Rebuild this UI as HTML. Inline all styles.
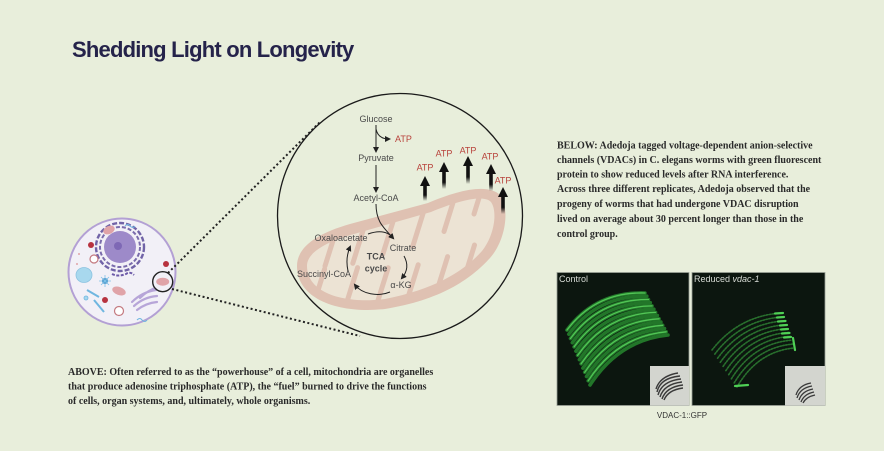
<!DOCTYPE html>
<html><head><meta charset="utf-8">
<style>
html,body{margin:0;padding:0;background:#e8eedb;}
body{width:884px;height:451px;overflow:hidden;position:relative;}
svg{position:absolute;left:0;top:0;}
.cap{font-family:"Liberation Serif",serif;font-weight:bold;font-size:10px;fill:#2a2a2a;}
.pw{font-family:"Liberation Sans",sans-serif;font-size:9px;fill:#4a4a4a;}
.atp{font-family:"Liberation Sans",sans-serif;font-size:9px;fill:#b8433c;}
</style></head><body>
<svg width="884" height="451" viewBox="0 0 884 451" xmlns="http://www.w3.org/2000/svg">
<defs>
  <marker id="ah" markerWidth="6" markerHeight="6" refX="4" refY="3" orient="auto" markerUnits="userSpaceOnUse">
    <path d="M0,0 L6,3 L0,6 Z" fill="#222"/>
  </marker>
  <linearGradient id="fade" x1="0" y1="1" x2="0" y2="0">
    <stop offset="0" stop-color="#111" stop-opacity="0"/>
    <stop offset="0.35" stop-color="#111" stop-opacity="1"/>
    <stop offset="1" stop-color="#111" stop-opacity="1"/>
  </linearGradient>
</defs>

<!-- Title -->
<text x="72" y="57" font-family="Liberation Sans, sans-serif" font-weight="bold" font-size="22" letter-spacing="-0.8" fill="#25234a">Shedding Light on Longevity</text>

<!-- Cell -->
<circle cx="122" cy="272" r="53.5" fill="#f2f0f7" stroke="#b3a0d4" stroke-width="2"/>
<circle cx="120" cy="247" r="24" fill="none" stroke="#5b4a99" stroke-width="2.4" stroke-dasharray="5 2" opacity="0.85"/>
<circle cx="120" cy="247" r="20" fill="none" stroke="#5b4a99" stroke-width="2" stroke-dasharray="4 2" opacity="0.8"/>
<circle cx="120" cy="247" r="16" fill="#9d8ac9"/>
<circle cx="118" cy="246" r="4" fill="#7e68b5"/>
<path d="M112,274 q6,3 14,0 q4,-3 8,1" fill="none" stroke="#6d5aa8" stroke-width="2" stroke-dasharray="3 1.5"/>
<ellipse cx="109" cy="230" rx="6" ry="4" fill="#e0a3a8" transform="rotate(-25 109 230)"/>
<circle cx="91" cy="245" r="3" fill="#b7323f"/>
<circle cx="166" cy="264" r="3" fill="#b7323f"/>
<circle cx="105" cy="300" r="3" fill="#b7323f"/>
<circle cx="94" cy="259" r="4" fill="#fff" stroke="#c47a80" stroke-width="1.2"/>
<circle cx="119" cy="311" r="4.5" fill="#fff" stroke="#c47a80" stroke-width="1.2"/>
<ellipse cx="84" cy="275" rx="8" ry="7.5" fill="#a8d8ee" stroke="#8cc3e0" stroke-width="0.8"/>
<circle cx="105" cy="281" r="3" fill="#3d8ac0"/>
<path d="M105,275 L105,287 M99,281 L111,281 M101,277 L109,285 M109,277 L101,285" stroke="#7cc0e8" stroke-width="0.8"/>
<line x1="87" y1="290" x2="99" y2="297" stroke="#6fb6e0" stroke-width="2"/>
<line x1="94" y1="300" x2="104" y2="312" stroke="#6fb6e0" stroke-width="2"/>
<circle cx="86" cy="298" r="2" fill="#a8d8ee" stroke="#6fb6e0" stroke-width="0.8"/>
<ellipse cx="119" cy="291" rx="7" ry="4" fill="#e0a3a8" transform="rotate(20 119 291)"/>
<path d="M132,302 q10,-10 24,-12 M134,306 q10,-9 23,-10 M137,310 q9,-7 20,-8 M140,298 q8,-8 18,-11" fill="none" stroke="#b7a5d8" stroke-width="2.2" stroke-linecap="round"/>
<path d="M125,226 q3,-3 5,0 q3,3 5,0" fill="none" stroke="#6fb6e0" stroke-width="1"/>
<path d="M137,320 q3,-3 5,0 q3,3 5,0" fill="none" stroke="#6fb6e0" stroke-width="1"/>
<circle cx="77" cy="264" r="1" fill="#e0a3a8"/>
<circle cx="79" cy="254" r="1" fill="#e0a3a8"/>
<circle cx="162.7" cy="281.7" r="10" fill="#f2f0f7" stroke="#222" stroke-width="1.4"/>
<ellipse cx="162.7" cy="281.7" rx="6.5" ry="4" fill="#e0a3a8"/>

<!-- dotted connectors -->
<line x1="168" y1="273" x2="320" y2="122" stroke="#222" stroke-width="2" stroke-dasharray="2 2.5"/>
<line x1="172" y1="289" x2="360" y2="336" stroke="#222" stroke-width="2" stroke-dasharray="2 2.5"/>

<!-- big circle -->
<circle cx="400" cy="216" r="122.5" fill="none" stroke="#1a1a1a" stroke-width="1.3"/>

<!-- mitochondrion -->
<path d="M297,266 C297,248 315,234 350,224 L428,203 C458,190 488,183 500,195 C510,208 506,240 490,258 C470,280 440,300 385,309 C340,314 297,300 297,266 Z" fill="#dfc1b2"/>
<path d="M307,266 C307,254 322,243 354,234 L431,212 C458,201 483,194 491,202 C498,212 494,236 482,251 C464,271 436,289 385,299 C346,304 307,294 307,266 Z" fill="#ece3d4"/>
<g stroke="#dfc1b2" stroke-width="5" stroke-linecap="round">
  <line x1="317.5" y1="292" x2="324.6" y2="269"/>
  <line x1="333.5" y1="239" x2="325" y2="266"/>
  <line x1="347.5" y1="300" x2="357.6" y2="267.6"/>
  <line x1="363.5" y1="229" x2="352.8" y2="263.3"/>
  <line x1="377.5" y1="302" x2="388.2" y2="267.7"/>
  <line x1="393.5" y1="220" x2="382.8" y2="254.3"/>
  <line x1="407.5" y1="299" x2="418.2" y2="264.7"/>
  <line x1="423.5" y1="212" x2="412.8" y2="246.3"/>
  <line x1="437.5" y1="289" x2="447.6" y2="256.6"/>
  <line x1="453.5" y1="201" x2="444" y2="231.5"/>
  <line x1="466.5" y1="271" x2="474.5" y2="245"/>
  <line x1="480.5" y1="193" x2="474" y2="214"/>
</g>

<!-- ATP arrows -->
<g>
  <rect x="423.2" y="184" width="3.6" height="17" fill="url(#fade)"/><path d="M420,186 L425,176 L430,186 Z" fill="#111"/>
  <rect x="442.2" y="170" width="3.6" height="19" fill="url(#fade)"/><path d="M439,172 L444,162 L449,172 Z" fill="#111"/>
  <rect x="466.2" y="164" width="3.6" height="20" fill="url(#fade)"/><path d="M463,166 L468,156 L473,166 Z" fill="#111"/>
  <rect x="489.2" y="172" width="3.6" height="19" fill="url(#fade)"/><path d="M486,174 L491,164 L496,174 Z" fill="#111"/>
  <rect x="501.2" y="195" width="3.6" height="19" fill="url(#fade)"/><path d="M498,197 L503,187 L508,197 Z" fill="#111"/>
</g>
<text class="atp" x="425" y="170.5" text-anchor="middle">ATP</text>
<text class="atp" x="444" y="156.5" text-anchor="middle">ATP</text>
<text class="atp" x="468" y="153.5" text-anchor="middle">ATP</text>
<text class="atp" x="490" y="159.5" text-anchor="middle">ATP</text>
<text class="atp" x="503" y="183.5" text-anchor="middle">ATP</text>

<!-- pathway -->
<text class="pw" x="376" y="122" text-anchor="middle">Glucose</text>
<line x1="376" y1="125" x2="376" y2="151" stroke="#222" stroke-width="1" marker-end="url(#ah)"/>
<path d="M376,129 Q378,139 389,139" fill="none" stroke="#222" stroke-width="1" marker-end="url(#ah)"/>
<text class="atp" x="395" y="142">ATP</text>
<text class="pw" x="376" y="161" text-anchor="middle">Pyruvate</text>
<line x1="376" y1="165" x2="376" y2="191" stroke="#222" stroke-width="1" marker-end="url(#ah)"/>
<text class="pw" x="376" y="201" text-anchor="middle">Acetyl-CoA</text>
<path d="M376,204 C376,222 384,228 393,238" fill="none" stroke="#222" stroke-width="1" marker-end="url(#ah)"/>
<path d="M368,234 Q382,229 390,235" fill="none" stroke="#222" stroke-width="1"/>
<text class="pw" x="341" y="241" text-anchor="middle">Oxaloacetate</text>
<text class="pw" x="403" y="251" text-anchor="middle">Citrate</text>
<text class="pw" x="376" y="259.5" text-anchor="middle" font-weight="bold" fill="#333">TCA</text>
<text class="pw" x="376" y="271.5" text-anchor="middle" font-weight="bold" fill="#333">cycle</text>
<text class="pw" x="324" y="277" text-anchor="middle">Succinyl-CoA</text>
<text class="pw" x="401" y="288" text-anchor="middle">α-KG</text>
<path d="M404,256 C409,265 407,272 402,278" fill="none" stroke="#222" stroke-width="1" marker-end="url(#ah)"/>
<path d="M390,292 C378,297 362,294 355,285" fill="none" stroke="#222" stroke-width="1" marker-end="url(#ah)"/>
<path d="M348,271 C346,262 347,254 350,247" fill="none" stroke="#222" stroke-width="1" marker-end="url(#ah)"/>

<!-- right caption -->
<g class="cap">
<text x="557" y="148.5">BELOW: Adedoja tagged voltage-dependent anion-selective</text>
<text x="557" y="163">channels (VDACs) in C. elegans worms with green fluorescent</text>
<text x="557" y="177.5">protein to show reduced levels after RNA interference.</text>
<text x="557" y="192.2">Across three different replicates, Adedoja observed that the</text>
<text x="557" y="207">progeny of worms that had undergone VDAC disruption</text>
<text x="557" y="222">lived on average about 30 percent longer than those in the</text>
<text x="557" y="236.8">control group.</text>
</g>

<!-- bottom caption -->
<g class="cap">
<text x="68" y="375">ABOVE: Often referred to as the “powerhouse” of a cell, mitochondria are organelles</text>
<text x="68" y="389.6">that produce adenosine triphosphate (ATP), the “fuel” burned to drive the functions</text>
<text x="68" y="404.2">of cells, organ systems, and, ultimately, whole organisms.</text>
</g>

<!-- worm panels -->
<rect x="557" y="272.5" width="132" height="133" fill="#0c160f" stroke="#9aa096" stroke-width="0.8"/>
<rect x="692" y="272.5" width="133" height="133" fill="#0c160f" stroke="#9aa096" stroke-width="0.8"/>
<g fill="none" stroke-linecap="round">
  <g stroke="#247c2b" stroke-width="3.6" opacity="0.95">
    <path d="M567,330 Q596,291.5 645,293"/>
    <path d="M568.8,334.2 Q597.8,295.2 646.8,296.2"/>
    <path d="M570.5,338.5 Q599.5,299 648.5,299.5"/>
    <path d="M572.3,342.7 Q601.3,302.7 650.3,302.7"/>
    <path d="M574.1,346.9 Q603.1,306.4 652.1,305.9"/>
    <path d="M575.9,351.2 Q604.9,310.2 653.9,309.2"/>
    <path d="M577.6,355.4 Q606.6,313.9 655.6,312.4"/>
    <path d="M579.4,359.6 Q608.4,317.6 657.4,315.6"/>
    <path d="M581.1,363.8 Q610.1,321.3 659.1,318.8"/>
    <path d="M582.9,368.1 Q611.9,325.1 660.9,322.1"/>
    <path d="M584.7,372.3 Q613.7,328.8 662.7,325.3"/>
    <path d="M586.5,376.5 Q615.5,332.5 664.5,328.5"/>
    <path d="M588.2,380.8 Q617.2,336.3 666.2,331.8"/>
    <path d="M590,385 Q619,340 668,335"/>
  </g>
  <g stroke="#52c656" stroke-width="1.3">
    <path d="M567,330 Q596,291.5 645,293"/>
    <path d="M570.5,338.5 Q599.5,299 648.5,299.5"/>
    <path d="M574.1,346.9 Q603.1,306.4 652.1,305.9"/>
    <path d="M577.6,355.4 Q606.6,313.9 655.6,312.4"/>
    <path d="M581.1,363.8 Q610.1,321.3 659.1,318.8"/>
    <path d="M584.7,372.3 Q613.7,328.8 662.7,325.3"/>
    <path d="M588.2,380.8 Q617.2,336.3 666.2,331.8"/>
  </g>
</g>
<g fill="none" stroke-linecap="round">
  <g stroke="#2c7a31" stroke-width="1.6" stroke-dasharray="1.5 1.5" opacity="0.9">
    <path d="M712,350 Q739,315.5 782,313"/>
    <path d="M714.8,354.1 Q741,319.5 783.3,316.9"/>
    <path d="M717.6,358.2 Q743.1,323.5 784.7,320.8"/>
    <path d="M720.3,362.3 Q745.2,327.5 786,324.7"/>
    <path d="M723.1,366.4 Q747.2,331.5 787.3,328.6"/>
    <path d="M725.9,370.6 Q749.3,335.5 788.7,332.4"/>
    <path d="M728.7,374.7 Q751.3,339.5 790,336.3"/>
    <path d="M731.4,378.8 Q753.4,343.5 791.3,340.2"/>
    <path d="M734.2,382.9 Q755.4,347.5 792.7,344.1"/>
    <path d="M737,387 Q757.5,351.5 794,348"/>
  </g>
  <g stroke="#4fd055" stroke-width="2.2">
    <path d="M775,313.5 L783,313"/><path d="M777,317.5 L784,317"/><path d="M778,321.5 L785.5,321"/>
    <path d="M780,325.5 L787,325"/><path d="M781,329.5 L788,329"/><path d="M782,333.5 L789.5,333"/>
    <path d="M784,337.5 L791,337"/><path d="M793,338 L795,350"/><path d="M735,386 L748,385"/>
  </g>
</g>
<rect x="650" y="366" width="39" height="39.5" fill="#d3d5cf"/>
<g stroke="#3a3a3a" stroke-width="1.4" fill="none">
  <path d="M657,392 Q660,378 680,376"/><path d="M658,395 Q662,381 681,379"/><path d="M660,397 Q664,384 682,382"/>
  <path d="M662,399 Q666,387 683,385"/><path d="M664,400 Q668,390 683,388"/><path d="M656,389 Q660,376 678,373"/>
</g>
<rect x="785" y="366" width="40" height="39.5" fill="#d3d5cf"/>
<g stroke="#3a3a3a" stroke-width="1.3" fill="none">
  <path d="M797,398 Q800,388 812,386"/><path d="M799,400 Q802,391 813,389"/><path d="M801,402 Q804,394 814,392"/>
  <path d="M796,395 Q799,385 811,383"/><path d="M803,403 Q806,397 815,395"/>
</g>
<text x="559" y="282" font-family="Liberation Sans, sans-serif" font-size="9" fill="#d8dcd6">Control</text>
<text x="694" y="282" font-family="Liberation Sans, sans-serif" font-size="9" fill="#d8dcd6">Reduced <tspan font-style="italic">vdac-1</tspan></text>
<text x="682" y="418" text-anchor="middle" font-family="Liberation Sans, sans-serif" font-size="8" fill="#333">VDAC-1::GFP</text>
</svg>
</body></html>
